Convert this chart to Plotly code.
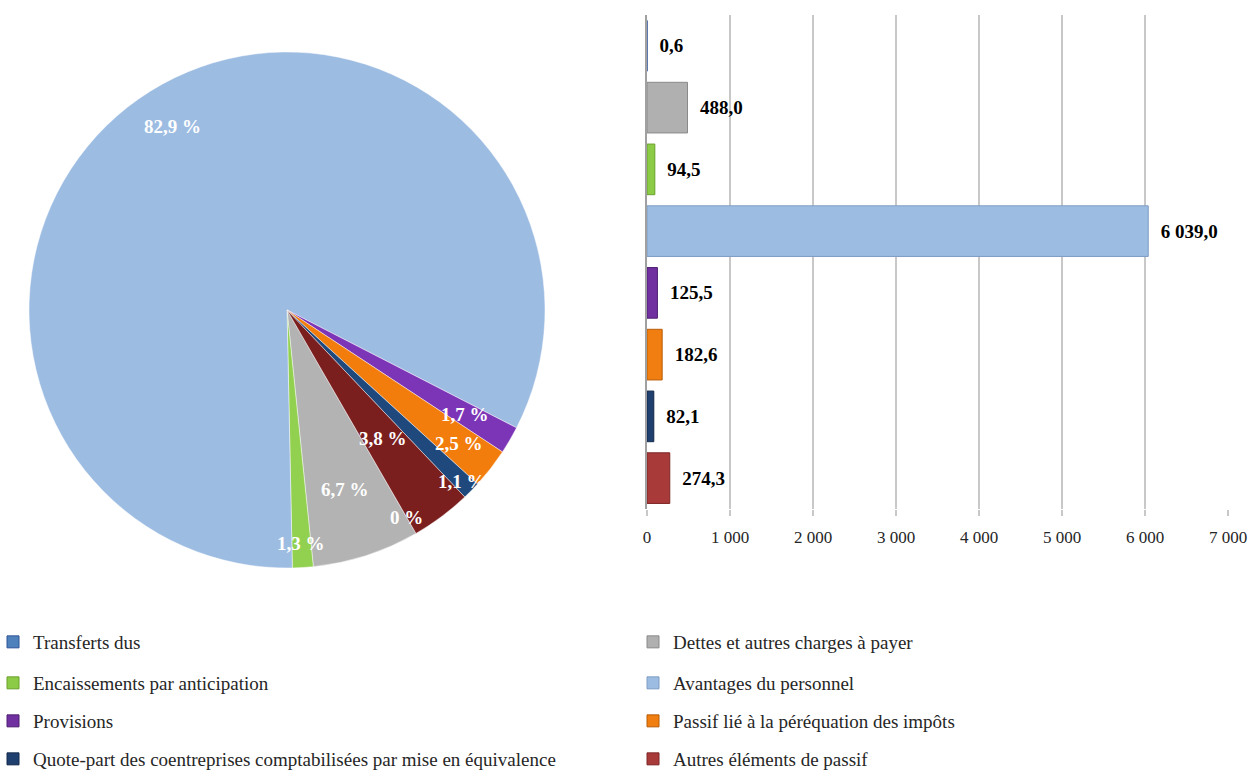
import math
import plotly.graph_objects as go

# --- data -------------------------------------------------------------------
categories = [
    "Transferts dus",
    "Dettes et autres charges à payer",
    "Encaissements par anticipation",
    "Avantages du personnel",
    "Provisions",
    "Passif lié à la péréquation des impôts",
    "Quote-part des coentreprises comptabilisées par mise en équivalence",
    "Autres éléments de passif",
]
values = [0.6, 488.0, 94.5, 6039.0, 125.5, 182.6, 82.1, 274.3]
x_ticks = [0, 1000, 2000, 3000, 4000, 5000, 6000, 7000]

# --- styling ----------------------------------------------------------------
pie_colors = ["#4F81BD", "#B3B3B3", "#92D050", "#9DBCE2",
              "#7D35B8", "#F27C0C", "#1F497D", "#7A1E1E"]
bar_colors = ["#4F81BD", "#B0B0B0", "#8CCB45", "#9DBCE2",
              "#7030A0", "#F07E10", "#1F3F6F", "#A93A3A"]
bar_edges = ["#2F5597", "#8A8A8A", "#6AA12C", "#7E9DC4",
             "#4E1E72", "#B85C08", "#142A4A", "#7E2626"]
# radial position (fraction of radius) of each percentage label
label_radius = [0.93, 0.73, 0.905, 0.84, 0.80, 0.845, 0.95, 0.62]
# legend grid: two columns, four rows (pixel anchors)
legend_col_px = [-7, 633]
legend_row_px = [642, 683, 721, 759]

W, H = 1250, 772
SERIF = "Liberation Serif, Times New Roman, serif"

# pie geometry (pixels)
cx, cy, R = 287, 310, 258
rotation = 150

fig = go.Figure()

fig.add_trace(go.Pie(
    labels=categories,
    values=values,
    sort=False,
    direction="clockwise",
    rotation=rotation,
    marker=dict(colors=pie_colors, line=dict(color="rgba(255,255,255,0.45)", width=1)),
    textinfo="none",
    showlegend=False,
    domain=dict(x=[(cx - R) / W, (cx + R) / W],
                y=[(H - cy - R) / H, (H - cy + R) / H]),
))

# percentage labels placed along each slice's mid-angle
total = sum(values)
angle = rotation
annotations = []
for v, rf in zip(values, label_radius):
    span = 360.0 * v / total
    mid = math.radians(angle + span / 2)
    angle += span
    pct = 100.0 * v / total
    s = f"{pct:.1f}"
    if float(s) == 0:
        s = "0"
    px = cx + rf * R * math.sin(mid)
    py = cy - rf * R * math.cos(mid)
    annotations.append(dict(
        x=px / W, y=1 - py / H, xref="paper", yref="paper",
        text=s.replace(".", ",") + " %", showarrow=False,
        font=dict(family=SERIF, size=19, color="white", weight="bold"),
        xanchor="center", yanchor="middle",
    ))

# one bar trace per category, each with its own legend box
legends = {}
for i, (cat, v) in enumerate(zip(categories, values)):
    key = "legend" if i == 0 else f"legend{i + 1}"
    legends[key] = dict(
        orientation="v",
        x=legend_col_px[i % 2] / W, xanchor="left",
        y=1 - legend_row_px[i // 2] / H, yanchor="middle",
        font=dict(family=SERIF, size=19, color="#262626"),
        bgcolor="rgba(0,0,0,0)", itemclick=False, itemdoubleclick=False,
    )
    fig.add_trace(go.Bar(
        x=[v], y=[cat], orientation="h", name=cat,
        width=0.82,
        marker=dict(color=bar_colors[i], line=dict(color=bar_edges[i], width=1)),
        texttemplate="\u00a0\u00a0%{x:,.1f}",
        textposition="outside",
        textfont=dict(family=SERIF, size=19, color="black", weight="bold"),
        cliponaxis=False,
        legend=key,
    ))

fig.update_layout(
    width=W, height=H,
    margin=dict(l=0, r=0, t=0, b=0, autoexpand=False),
    paper_bgcolor="white", plot_bgcolor="white",
    separators=", ",
    barmode="overlay",
    annotations=annotations,
    xaxis=dict(
        domain=[647 / W, 1228 / W], range=[0, 7000],
        tickvals=x_ticks, tickformat=",d",
        showgrid=True, gridcolor="#C8C8C8", gridwidth=1.5,
        ticks="outside", ticklen=6, tickcolor="#C8C8C8", tickwidth=1.5,
        tickfont=dict(family=SERIF, size=17, color="#262626"),
        ticklabelstandoff=7,
        zeroline=False, showline=False, fixedrange=True,
    ),
    yaxis=dict(
        domain=[1 - 509 / H, 1 - 15 / H],
        autorange="reversed", showticklabels=False, ticks="",
        showgrid=False, zeroline=False,
        showline=True, linecolor="#A0A0A0", linewidth=1.5,
        fixedrange=True,
    ),
    **legends,
)

fig.write_html("out.html")
